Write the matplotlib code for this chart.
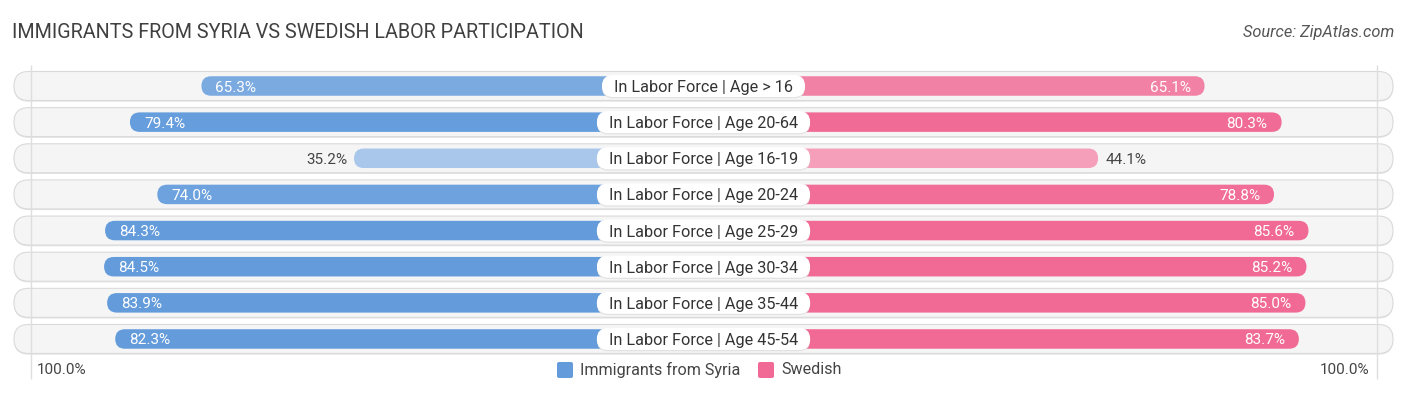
import matplotlib
matplotlib.use('Agg')
import matplotlib.pyplot as plt
from matplotlib.patches import FancyBboxPatch
import numpy as np

# ---------------- data ----------------
categories = [
    "In Labor Force | Age > 16",
    "In Labor Force | Age 20-64",
    "In Labor Force | Age 16-19",
    "In Labor Force | Age 20-24",
    "In Labor Force | Age 25-29",
    "In Labor Force | Age 30-34",
    "In Labor Force | Age 35-44",
    "In Labor Force | Age 45-54",
]
syria = [65.3, 79.4, 35.2, 74.0, 84.3, 84.5, 83.9, 82.3]
swedish = [65.1, 80.3, 44.1, 78.8, 85.6, 85.2, 85.0, 83.7]
series_names = ["Immigrants from Syria", "Swedish"]
title = "IMMIGRANTS FROM SYRIA VS SWEDISH LABOR PARTICIPATION"
source = "Source: ZipAtlas.com"
axis_label = "100.0%"

# ---------------- layout ----------------
W, H = 1406, 395
DPI = 100
PX = 5.07          # pixels per percent
CX = 703.5         # centre pixel
ROW0 = 86.0        # first row centre (px)
STEP = 36.14       # row spacing (px)
OFF = 171 / PX     # bar offset under the label

BLUE = np.array([0x63, 0x9b, 0xdb]) / 255
PINK = np.array([0xf0, 0x6a, 0x95]) / 255

plt.rcParams['font.family'] = ['Roboto', 'DejaVu Sans']

fig = plt.figure(figsize=(W / DPI, H / DPI), dpi=DPI)
ax = fig.add_axes([0, 0, 1, 1])
ax.set_xlim((0 - CX) / PX, (W - CX) / PX)
ax.set_ylim((H - ROW0) / STEP, (0 - ROW0) / STEP)
ax.axis('off')


def px_x(p):
    return (p - CX) / PX


def px_y(p):
    return (p - ROW0) / STEP


def pill(x0, x1, yc, h_px, **kw):
    h = h_px / STEP
    r = h_px / 2 / PX
    p = FancyBboxPatch((x0, yc - h / 2), x1 - x0, h,
                       boxstyle=f"round,pad=0,rounding_size={r}",
                       mutation_aspect=PX / STEP, **kw)
    ax.add_patch(p)
    return p


def shade(base, v):
    t = min(1.0, 0.56 + (v - 35.2) * 0.0095)
    return tuple(base * t + (1 - t))


n = len(categories)
half = px_x(1393)
for i in range(n):
    # shadow + background pill
    pill(-half, half, i + 1.2 / STEP, 29, facecolor='#e4e4e4', edgecolor='none', zorder=1)
    pill(-half, half, i, 29, facecolor='#f5f5f5', edgecolor='#dadada', lw=0.8, zorder=1.1)

# grid lines at 100%
g = 673 / PX
ax.vlines([-g, g], px_y(65), px_y(379), colors='#dedede', lw=1, zorder=1.5)

VFS = 11
renderer = fig.canvas.get_renderer()
for i, (cat, a, b) in enumerate(zip(categories, syria, swedish)):
    # bars
    pill(-(OFF + a), 0, i, 19.5, facecolor=shade(BLUE, a), edgecolor='none', zorder=2)
    pill(0, OFF + b, i, 19.5, facecolor=shade(PINK, b), edgecolor='none', zorder=2)

    # value labels
    if a > 50:
        ax.text(-(OFF + a) + 14 / PX, i, f"{a:.1f}%", ha='left', va='center_baseline',
                fontsize=VFS, color='white', zorder=4)
    else:
        ax.text(-(OFF + a) - 7 / PX, i, f"{a:.1f}%", ha='right', va='center_baseline',
                fontsize=VFS, color='#444444', zorder=4)
    if b > 50:
        ax.text(OFF + b - 14 / PX, i, f"{b:.1f}%", ha='right', va='center_baseline',
                fontsize=VFS, color='white', zorder=4)
    else:
        ax.text(OFF + b + 7 / PX, i, f"{b:.1f}%", ha='left', va='center_baseline',
                fontsize=VFS, color='#444444', zorder=4)

    # category label on white pill
    t = ax.text(0, i, cat, ha='center', va='center_baseline', fontsize=11.7,
                color='#333333', zorder=6)
    bb = t.get_window_extent(renderer=renderer)
    wpx = bb.width + 24
    pill(-wpx / 2 / PX, wpx / 2 / PX, i + 1 / STEP, 22.5, facecolor='#e2e2e2',
         edgecolor='none', zorder=4.5)
    pill(-wpx / 2 / PX, wpx / 2 / PX, i, 22, facecolor='white',
         edgecolor='none', zorder=5)

# title and source
ax.text(px_x(12), px_y(33), title, ha='left', va='center', fontsize=14.2,
        color='#404040', zorder=6)
ax.text(px_x(1394), px_y(33), source, ha='right', va='center', fontsize=11.8,
        color='#555555', style='italic', zorder=6)

# axis labels
ax.text(px_x(37), px_y(370), axis_label, ha='left', va='center', fontsize=11, color='#444444')
ax.text(px_x(1369), px_y(370), axis_label, ha='right', va='center', fontsize=11, color='#444444')

# legend
yl = px_y(370)
for x0, name, col in [(557, series_names[0], BLUE), (758, series_names[1], PINK)]:
    sq_w = 16 / PX
    sq_h = 16 / STEP
    ax.add_patch(FancyBboxPatch((px_x(x0), yl - sq_h / 2), sq_w, sq_h,
                                boxstyle=f"round,pad=0,rounding_size={2 / PX}",
                                mutation_aspect=PX / STEP, facecolor=tuple(col),
                                edgecolor='none'))
    ax.text(px_x(x0 + 23), yl, name, ha='left', va='center', fontsize=11.6, color='#444444')

fig.savefig('out.png', dpi=DPI)
